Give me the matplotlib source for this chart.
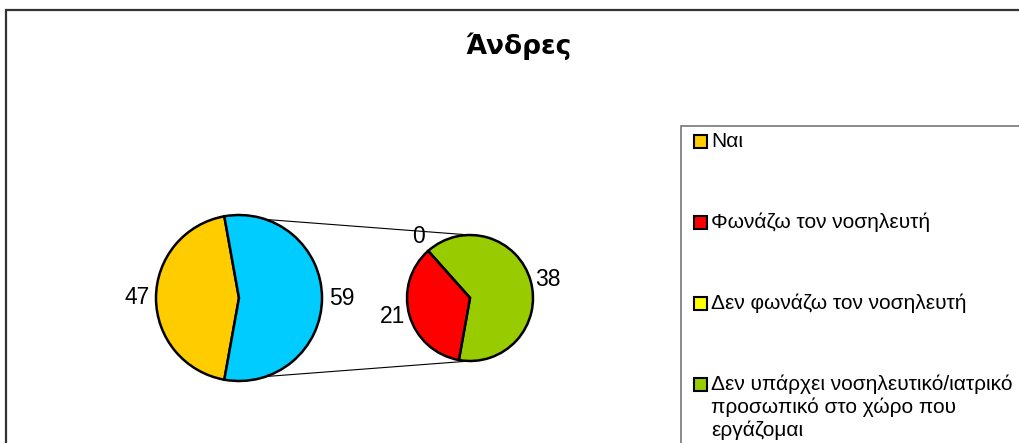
import numpy as np
import matplotlib.pyplot as plt
from matplotlib.patches import Rectangle

plt.rcParams['font.family'] = ['Liberation Sans', 'DejaVu Sans']

# data
title = 'Άνδρες'
categories = ['Ναι', 'Φωνάζω τον νοσηλευτή', 'Δεν φωνάζω τον νοσηλευτή',
              'Δεν υπάρχει νοσηλευτικό/ιατρικό\nπροσωπικό στο χώρο που\nεργάζομαι']
colors = ['#FFCC00', '#FF0000', '#FFFF00', '#99CC00']
main_values = [47, 59]            # Ναι, rest (split in the second pie)
other_color = '#00CCFF'
sub_values = [38, 0, 21]          # Δεν υπάρχει, Δεν φωνάζω, Φωνάζω
sub_colors = ['#99CC00', '#FFFF00', '#FF0000']

W, H = 1019, 443
fig = plt.figure(figsize=(W / 100, H / 100), dpi=100)
ax = fig.add_axes([0, 0, 1, 1])


def draw_pie(values, cols, start, center, radius, gap):
    ax.pie(values, colors=cols, startangle=start, radius=radius,
           center=center, frame=True,
           wedgeprops=dict(edgecolor='black', linewidth=1.8))
    # data labels outside the wedges (Excel "outside end" style)
    total = sum(values)
    a = start
    for v in values:
        mid = np.radians(a + 180 * v / total)
        a += 360 * v / total
        c, s = np.cos(mid), np.sin(mid)
        ha = 'left' if c > 0.3 else ('right' if c < -0.3 else 'center')
        va = 'bottom' if s > 0.3 else ('top' if s < -0.3 else 'center')
        ax.text(center[0] + radius * gap * c, center[1] + radius * gap * s,
                str(v), ha=ha, va=va, fontsize=16.5)


# main pie
c1, r1 = (239, H - 298), 83
frac = main_values[0] / sum(main_values)
start1 = 180 - 180 * frac
draw_pie(main_values, [colors[0], other_color], start1, c1, r1, 1.08)

# secondary pie
c2, r2 = (470, H - 298), 63
start2 = start1 + 360 * frac - 360
draw_pie(sub_values, sub_colors, start2, c2, r2, 1.07)

ax.set_xlim(0, W)
ax.set_ylim(0, H)
ax.set_aspect('equal')
ax.axis('off')

# connector lines between the pies
for ang_main, ang_sub in [(start1, 90), (start1 + 360 * frac, 270)]:
    x0 = c1[0] + r1 * np.cos(np.radians(ang_main))
    y0 = c1[1] + r1 * np.sin(np.radians(ang_main))
    x1 = c2[0] + r2 * np.cos(np.radians(ang_sub))
    y1 = c2[1] + r2 * np.sin(np.radians(ang_sub))
    ax.plot([x0, x1], [y0, y1], color='black', lw=0.8, zorder=0)

# outer chart frame and legend box (run off the picture at right / bottom)
ax.add_patch(Rectangle((6, -20), W + 20, H - 10 + 20, fill=False,
                       edgecolor='#333333', lw=1.6))
ax.add_patch(Rectangle((681, -20), W, H - 126 + 20, fill=False,
                       edgecolor='#777777', lw=1.2))

ax.text(518, H - 46, title, ha='center', va='center', fontsize=19,
        fontweight='bold', family='DejaVu Sans')

# legend
leg_y = [141, 222, 303, 384]
for lab, col, y in zip(categories, colors, leg_y):
    ax.add_patch(Rectangle((694, H - y - 6.5), 13, 13, facecolor=col,
                           edgecolor='black', lw=1.5))
    for i, line in enumerate(lab.split('\n')):
        ax.text(711, H - y - 23 * i, line, ha='left', va='center',
                fontsize=15)

fig.savefig('out.png', dpi=100)
